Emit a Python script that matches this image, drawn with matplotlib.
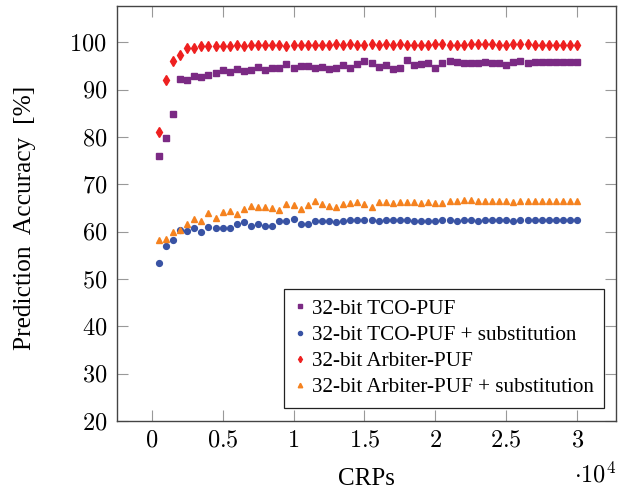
import numpy as np
import matplotlib
matplotlib.use("Agg")
import matplotlib.pyplot as plt
from matplotlib.ticker import FuncFormatter

""" Data """
crps = np.arange(500, 30001, 500)

tco = [76.0, 79.9, 84.8, 92.2, 92.0, 93.0, 92.8, 93.2, 93.5, 94.1,
       93.7, 94.3, 93.9, 94.1, 94.8, 94.1, 94.5, 94.7, 95.5, 94.6,
       95.1, 95.0, 94.6, 94.9, 94.4, 94.7, 95.2, 94.5, 95.5, 96.0,
       95.6, 94.9, 95.3, 94.3, 94.7, 96.2, 95.3, 95.4, 95.7, 94.6,
       95.7, 96.0, 95.9, 95.6, 95.7, 95.7, 95.9, 95.6, 95.6, 95.3,
       95.9, 96.0, 95.7, 95.9, 95.9, 95.9, 95.9, 95.9, 95.9, 95.8]

tco_sub = [53.3, 57.0, 58.2, 60.3, 60.1, 60.7, 60.0, 61.1, 60.7, 60.7,
           60.8, 61.7, 62.0, 61.3, 61.7, 61.3, 61.3, 62.2, 62.2, 62.6,
           61.7, 61.7, 62.2, 62.2, 62.3, 62.0, 62.2, 62.38, 62.38, 62.38,
           62.38, 62.17, 62.38, 62.38, 62.45, 62.45, 62.24, 62.24, 62.24, 62.24,
           62.52, 62.52, 62.31, 62.38, 62.45, 62.31, 62.45, 62.45, 62.45, 62.45,
           62.31, 62.45, 62.45, 62.45, 62.45, 62.45, 62.45, 62.45, 62.38, 62.45]

arbiter = [81.1, 92.0, 96.1, 97.25, 98.8, 98.9, 99.15, 99.15, 99.15, 99.15,
           99.22, 99.36, 99.29, 99.36, 99.36, 99.5, 99.5, 99.36, 99.29, 99.43,
           99.5, 99.5, 99.36, 99.43, 99.43, 99.57, 99.43, 99.57, 99.5, 99.5,
           99.57, 99.5, 99.64, 99.5, 99.57, 99.43, 99.43, 99.43, 99.43, 99.57,
           99.71, 99.43, 99.43, 99.43, 99.57, 99.57, 99.57, 99.57, 99.5, 99.5,
           99.64, 99.57, 99.64, 99.43, 99.5, 99.5, 99.43, 99.5, 99.5, 99.5]

arbiter_sub = [58.2, 58.5, 59.9, 60.3, 61.6, 62.7, 62.3, 63.9, 62.8, 64.1,
               64.4, 63.8, 64.9, 65.4, 65.3, 65.3, 65.0, 64.5, 65.9, 65.7,
               64.9, 65.6, 66.5, 65.9, 65.5, 65.3, 65.9, 66.0, 66.3, 65.9,
               65.3, 66.2, 66.3, 66.1, 66.3, 66.3, 66.3, 66.1, 66.2, 66.1,
               66.0, 66.5, 66.5, 66.75, 66.75, 66.5, 66.5, 66.45, 66.5, 66.45,
               66.3, 66.5, 66.5, 66.5, 66.5, 66.5, 66.5, 66.5, 66.5, 66.5]

labels = ['32-bit TCO-PUF', '32-bit TCO-PUF + substitution',
          '32-bit Arbiter-PUF', '32-bit Arbiter-PUF + substitution']

""" Plots """
plt.rcParams['font.family'] = ['Liberation Serif', 'DejaVu Serif']
plt.rcParams['mathtext.fontset'] = 'cm'

fig = plt.figure(figsize=(6.26, 4.93), dpi=100)
ax = fig.add_axes([0.1864, 0.146, 0.7972, 0.8418])

ax.plot(crps, tco, ls='none', marker='s', ms=4.2, color='#7b2a84', label=labels[0])
ax.plot(crps, tco_sub, ls='none', marker='o', ms=4.2, color='#3953a4', label=labels[1])
ax.plot(crps, arbiter, ls='none', marker='d', ms=4.6, color='#ee2020', label=labels[2])
ax.plot(crps, arbiter_sub, ls='none', marker='^', ms=4.6, color='#f5821f', label=labels[3])

ax.set_xlim(-2470, 32720)
ax.set_ylim(20, 107.7)
ax.set_xticks(np.arange(0, 30001, 5000))
ax.set_yticks(np.arange(20, 101, 10))
ax.xaxis.set_major_formatter(FuncFormatter(lambda v, p: '$%g$' % (v / 1e4)))
ax.yaxis.set_major_formatter(FuncFormatter(lambda v, p: '$%d$' % v))
ax.tick_params(direction='in', length=8, width=0.8, color='#999999',
               labelsize=17.5, top=True, right=True, pad=7)
for s in ax.spines.values():
    s.set_color('#444444')
    s.set_linewidth(1.0)

ax.set_ylabel('Prediction  Accuracy  [%]', fontsize=18.3)
ax.yaxis.set_label_coords(-0.162, 0.49)
ax.set_xlabel('CRPs', fontsize=18, labelpad=12)
ax.text(1.0, -0.098, r'$\cdot 10^4$', transform=ax.transAxes, fontsize=17.5,
        ha='right', va='top')

leg = ax.legend(loc='lower right', bbox_to_anchor=(0.9766, 0.032), fontsize=15.2,
                frameon=True, fancybox=False, framealpha=1, edgecolor='#222222',
                markerscale=0.7, handlelength=0.5, handletextpad=0.3,
                labelspacing=0.3, borderpad=0.5, borderaxespad=0)
leg.get_frame().set_linewidth(0.9)

plt.savefig('out.png', dpi=100)
